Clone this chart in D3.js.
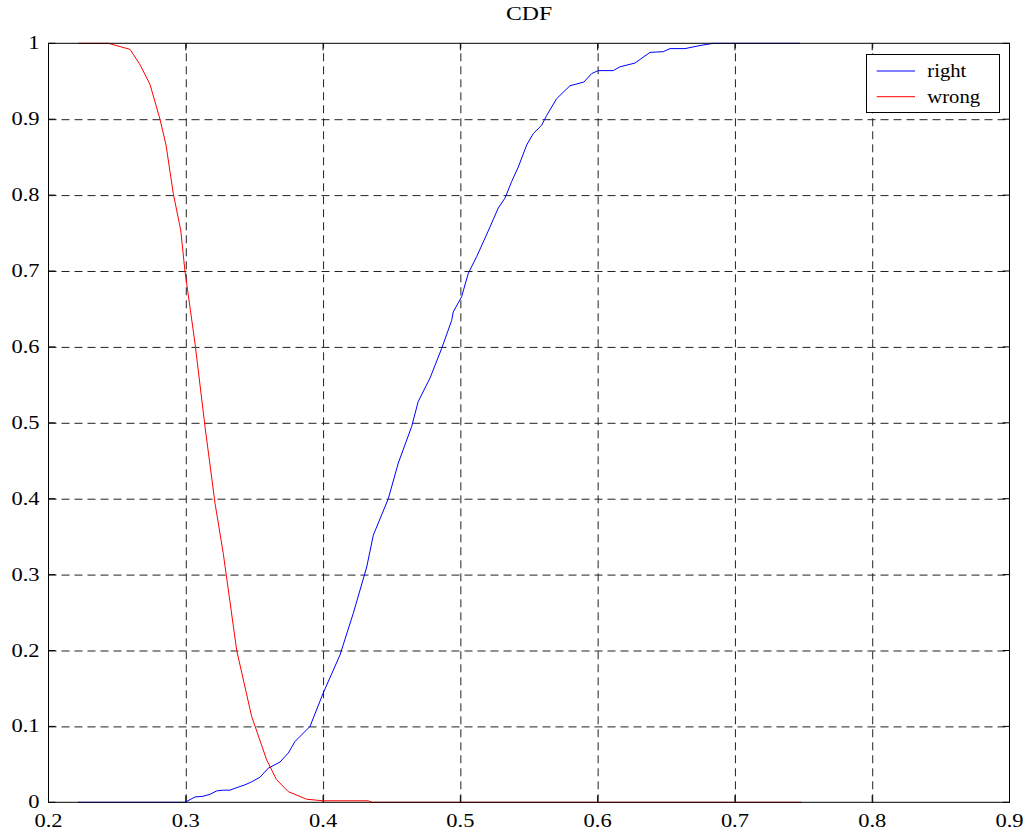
<!DOCTYPE html>
<html>
<head>
<meta charset="utf-8">
<script src="https://cdn.jsdelivr.net/npm/d3@7"></script>
<style>
html,body{margin:0;padding:0;background:#fff;}
svg{display:block;}
</style>
</head>
<body>
<svg id="chart" width="1024" height="833"></svg>
<script>
// ---- data ----
const title = "CDF";
const seriesNames = ["right", "wrong"];
const seriesColors = ["#0000ff", "#ff0000"];

const rightX = [0.2215,0.2994,0.3067,0.3127,0.3176,0.3225,0.3273,0.3322,0.3382,0.3431,0.3480,0.3540,0.3601,0.3686,0.3747,0.3795,0.3905,0.4001,0.4123,0.4220,0.4318,0.4366,0.4475,0.4548,0.4645,0.4693,0.4779,0.4864,0.4937,0.4948,0.5009,0.5058,0.5119,0.5216,0.5276,0.5325,0.5374,0.5422,0.5483,0.5531,0.5592,0.5629,0.5701,0.5798,0.5900,0.5956,0.6004,0.6114,0.6162,0.6272,0.6381,0.6478,0.6527,0.6636,0.6745,0.6842,0.7474];
const rightY = [0,0,0.007,0.008,0.0105,0.015,0.016,0.016,0.020,0.023,0.027,0.033,0.045,0.053,0.065,0.080,0.100,0.144,0.194,0.249,0.310,0.352,0.400,0.447,0.495,0.528,0.559,0.598,0.635,0.646,0.666,0.697,0.719,0.758,0.783,0.796,0.818,0.837,0.866,0.881,0.892,0.905,0.927,0.944,0.949,0.960,0.964,0.964,0.969,0.974,0.988,0.989,0.993,0.993,0.997,1.0,1.0];

const wrongX = [0.2217,0.2436,0.2594,0.2666,0.2739,0.2812,0.2856,0.2909,0.2963,0.2994,0.3067,0.3140,0.3213,0.3273,0.3371,0.3480,0.3589,0.3660,0.3747,0.3881,0.4001,0.4329,0.4356,0.7486];
const wrongY = [1.0,1.0,0.992,0.972,0.946,0.900,0.866,0.802,0.754,0.700,0.605,0.495,0.394,0.328,0.200,0.113,0.056,0.030,0.014,0.004,0.002,0.002,0,0];

const xTicks = [0.2,0.3,0.4,0.5,0.6,0.7,0.8,0.9];
const xTickLabels = ["0.2","0.3","0.4","0.5","0.6","0.7","0.8","0.9"];
const yTicks = [0,0.1,0.2,0.3,0.4,0.5,0.6,0.7,0.8,0.9,1];
const yTickLabels = ["0","0.1","0.2","0.3","0.4","0.5","0.6","0.7","0.8","0.9","1"];

// ---- layout ----
const L = 48.5, R = 1009.5, T = 43.3, B = 802.3;
const svg = d3.select("#chart");
const x = d3.scaleLinear().domain([0.2, 0.9]).range([L, R]);
const y = d3.scaleLinear().domain([0, 1]).range([B, T]);
const FONT = "'Liberation Serif','Times New Roman',serif";

svg.append("rect").attr("x",0).attr("y",0).attr("width",1024).attr("height",833).attr("fill","#fff");

// grid lines via axes
const gridX = svg.append("g").attr("transform", `translate(0,${B})`)
  .call(d3.axisBottom(x).tickValues(xTicks.slice(1,-1)).tickSize(-(B-T)).tickFormat(""));
gridX.select(".domain").remove();
gridX.selectAll("line").attr("stroke","#222").attr("stroke-width",1).attr("stroke-dasharray","8,5");

const gridY = svg.append("g").attr("transform", `translate(${L},0)`)
  .call(d3.axisLeft(y).tickValues(yTicks.slice(1,-1)).tickSize(-(R-L)).tickFormat(""));
gridY.select(".domain").remove();
gridY.selectAll("line").attr("stroke","#222").attr("stroke-width",1).attr("stroke-dasharray","8,5");

// inward ticks on all sides
const tk = 7;
const ticks = svg.append("g").attr("stroke","#000").attr("stroke-width",1);
xTicks.forEach(v => {
  ticks.append("line").attr("x1",x(v)).attr("x2",x(v)).attr("y1",B).attr("y2",B-tk);
  ticks.append("line").attr("x1",x(v)).attr("x2",x(v)).attr("y1",T).attr("y2",T+tk);
});
yTicks.forEach(v => {
  ticks.append("line").attr("x1",L).attr("x2",L+tk).attr("y1",y(v)).attr("y2",y(v));
  ticks.append("line").attr("x1",R).attr("x2",R-tk).attr("y1",y(v)).attr("y2",y(v));
});

// series
const line = d3.line().x(d => x(d[0])).y(d => y(d[1]));
const series = [
  {name: seriesNames[0], color: seriesColors[0], pts: rightX.map((v,i)=>[v, rightY[i]])},
  {name: seriesNames[1], color: seriesColors[1], pts: wrongX.map((v,i)=>[v, wrongY[i]])}
];
series.forEach(s => {
  svg.append("path").datum(s.pts).attr("d", line)
    .attr("fill","none").attr("stroke", s.color).attr("stroke-width",1);
});

// axis box
svg.append("rect").attr("x",L).attr("y",T).attr("width",R-L).attr("height",B-T)
  .attr("fill","none").attr("stroke","#000").attr("stroke-width",1);

// tick labels
xTicks.forEach((v,i) => {
  svg.append("text").attr("transform", `translate(${x(v)},827) scale(1.25,1)`)
    .attr("text-anchor","middle").attr("font-family",FONT).attr("font-size",18)
    .attr("fill","#000").text(xTickLabels[i]);
});
yTicks.forEach((v,i) => {
  svg.append("text").attr("transform", `translate(39.5,${y(v)+6}) scale(1.25,1)`)
    .attr("text-anchor","end").attr("font-family",FONT).attr("font-size",18)
    .attr("fill","#000").text(yTickLabels[i]);
});

// title
svg.append("text").attr("transform", `translate(${(L+R)/2},20) scale(1.25,1)`)
  .attr("text-anchor","middle").attr("font-family",FONT).attr("font-size",19)
  .attr("fill","#000").text(title);

// legend
const lg = svg.append("g");
lg.append("rect").attr("x",866.5).attr("y",54.5).attr("width",133).attr("height",58)
  .attr("fill","#fff").attr("stroke","#000").attr("stroke-width",1);
series.forEach((s,i) => {
  const ly = 71 + i*25.7;
  lg.append("line").attr("x1",876.7).attr("x2",915).attr("y1",ly).attr("y2",ly)
    .attr("stroke", s.color).attr("stroke-width",1);
  lg.append("text").attr("transform", `translate(927.3,${ly+5.8}) scale(1.15,1)`)
    .attr("font-family",FONT).attr("font-size",18).attr("fill","#000").text(s.name);
});
</script>
</body>
</html>
